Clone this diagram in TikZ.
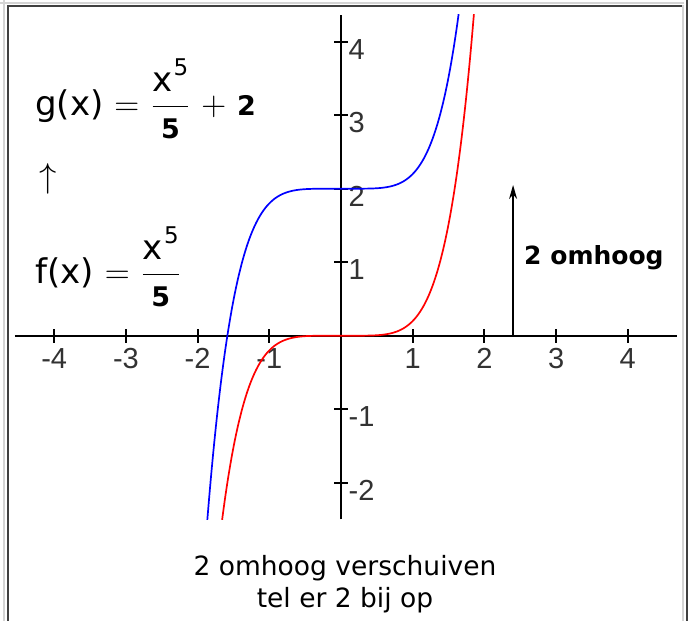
\documentclass[tikz,border=0pt]{standalone}
\usepackage{fontspec}
\usepackage{amsmath}
\setmainfont{DejaVu Sans}
\newfontfamily\tickfont{Liberation Sans}
\usetikzlibrary{arrows.meta,positioning,calc}
\definecolor{framelight}{RGB}{212,212,212}
\definecolor{framedark}{RGB}{64,64,64}
\definecolor{tickgray}{RGB}{50,50,50}

\newcommand{\bnum}[1]{{\fontsize{13.5pt}{15pt}\selectfont\bfseries #1}}
\newcommand{\supfive}{\kern0.5pt\raisebox{8pt}{\fontsize{11.5pt}{12pt}\selectfont 5}}
\newcommand{\xfrac}[2]{$\displaystyle\frac{\mbox{#1}}{\mbox{#2}}$}

\begin{document}
\begin{tikzpicture}[x=0.5pt, y=-0.5pt,
    axisline/.style={line width=1pt, black},
    ticklabel/.style={font=\tickfont\fontsize{14.5pt}{16pt}\selectfont, text=tickgray, inner sep=0pt},
    fcurve/.style={red, line width=0.85pt},
    gcurve/.style={blue, line width=0.85pt},
    shiftarrow/.style={line width=0.75pt, -{Stealth[length=7pt, width=4pt]}},
    formula/.style={font=\fontsize{17pt}{20pt}\selectfont, inner sep=0pt},
    caption/.style={font=\fontsize{13.25pt}{16pt}\selectfont, align=center, inner sep=0pt},
    shiftlabel/.style={font=\bfseries\fontsize{12.5pt}{15pt}\selectfont, inner sep=0pt}]
  \useasboundingbox (0,0) rectangle (694,621);

  % table frame
  \draw[framelight, line width=1pt] (3.75,0) -- (3.75,621);
  \draw[framelight, line width=1pt] (0,2.75) -- (684,2.75);
  \draw[framedark, line width=1pt] (7.5,5) -- (7.5,621);
  \draw[framedark, line width=1pt] (7,6) -- (682,6);
  \draw[framelight, line width=1pt] (683,5) -- (683,621);
  \draw[framedark, line width=1pt] (687,0) -- (687,621);

  % formulas
  \node[formula, anchor=base west] (gform) at (35,115)
       {g(x) $=$ \xfrac{x\supfive}{\bnum{5}} $+$ \bnum{2}};
  \node[font=\fontsize{18pt}{20pt}\selectfont, inner sep=0pt] (shiftsym) at (48,179) {$\uparrow$};
  \node[formula, anchor=base west] (fform) at (35,283)
       {f(x) $=$ \xfrac{x\supfive}{\bnum{5}}};

  % plot
  \begin{scope}[shift={(170.5pt,-167.85pt)}, x=35.85pt, y=36.75pt]
    \coordinate (xmin) at (-4.55,0);
    \coordinate (xmax) at (4.68,0);
    \coordinate (ymin) at (0,-2.5);
    \coordinate (ymax) at (0,4.37);
    \draw[axisline] (xmin) -- (xmax);
    \draw[axisline] (ymin) -- (ymax);
    \foreach \i in {-4,-3,-2,-1,1,2,3,4} {
      \draw[axisline] (\i,-3.5pt) -- (\i,3.5pt);
      \node[ticklabel, anchor=north] (xl\i) at (\i,-6.2pt) {\i};
    }
    \foreach \j in {-2,-1,1,2,3,4} {
      \draw[axisline] (-3.5pt,\j) -- (3.5pt,\j);
      \node[ticklabel, anchor=north west, xshift=3.6pt, yshift=1.5pt] (yl\j) at (0,\j) {\j};
    }
    \begin{scope}
      \clip (-4.6,-2.5) rectangle (4.7,4.37);
      \draw[fcurve] plot[domain=-2:2, samples=241, smooth] (\x, {\x*\x*\x*\x*\x/5});
      \draw[gcurve] plot[domain=-2:2, samples=241, smooth] (\x, {\x*\x*\x*\x*\x/5+2});
    \end{scope}
    \coordinate (upfoot) at (2.4,0);
    \coordinate (uptip) at (2.4,2.05);
    \draw[shiftarrow] (upfoot) -- (uptip);
    \node[shiftlabel, anchor=base west] (omhoog) at (2.55,0.975) {2 omhoog};
  \end{scope}

  % caption
  \node[caption, anchor=north] (cap) at (345,555) {2 omhoog verschuiven\\tel er 2 bij op};
\end{tikzpicture}
\end{document}
